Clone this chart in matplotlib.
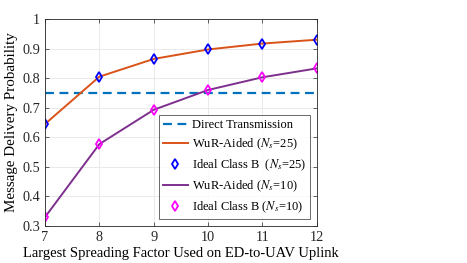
import numpy as np
import matplotlib
matplotlib.use("Agg")
import matplotlib.pyplot as plt

plt.rcParams['font.family'] = ['Liberation Serif', 'DejaVu Serif']
plt.rcParams['mathtext.fontset'] = 'stix'

# data
sf = [7, 8, 9, 10, 11, 12]
direct = 0.75
wur_25 = [0.645, 0.805, 0.865, 0.897, 0.917, 0.930]
ideal_25 = [0.645, 0.805, 0.865, 0.897, 0.917, 0.930]
wur_10 = [0.330, 0.577, 0.693, 0.760, 0.803, 0.833]
ideal_10 = [0.330, 0.577, 0.693, 0.760, 0.803, 0.833]

fig = plt.figure(figsize=(4.67, 2.63), dpi=100)
ax = fig.add_axes([0.0964, 0.1407, 0.582, 0.787])

ax.axhline(direct, color='#0072BD', ls='--', lw=1.6, dashes=(4, 2.5), label='Direct Transmission')
ax.plot(sf, wur_25, color='#D95319', lw=1.4, label='WuR-Aided ($N_s$=25)')
ax.plot(sf, ideal_25, ls='none', marker='d', ms=5.5, mfc='none', mec='b', mew=1.3,
        label='Ideal Class B  ($N_s$=25)')
ax.plot(sf, wur_10, color='#7E2F8E', lw=1.4, label='WuR-Aided ($N_s$=10)')
ax.plot(sf, ideal_10, ls='none', marker='d', ms=5.5, mfc='none', mec='#FF00FF', mew=1.3,
        label='Ideal Class B ($N_s$=10)')

ax.set_xlim(7, 12)
ax.set_ylim(0.3, 1.0)
ax.set_xticks(sf)
ax.set_yticks([0.3, 0.4, 0.5, 0.6, 0.7, 0.8, 0.9, 1.0])
ax.set_yticklabels(['0.3', '0.4', '0.5', '0.6', '0.7', '0.8', '0.9', '1'])
ax.grid(True, color='#e6e6e6', lw=0.6)
ax.set_axisbelow(True)
ax.tick_params(labelsize=10.3, direction='in', length=3, width=0.5, top=True, right=True, colors='#262626')
for s in ax.spines.values():
    s.set_linewidth(0.6)
    s.set_color('#262626')

ax.set_xlabel('Largest Spreading Factor Used on ED-to-UAV Uplink', fontsize=10.5, labelpad=2)
ax.set_ylabel('Message Delivery Probability', fontsize=10.8, labelpad=3)

leg = ax.legend(loc='lower right', fontsize=9, frameon=True, fancybox=False,
                edgecolor='#262626', borderpad=0.3, labelspacing=0.45, handlelength=2.0,
                handletextpad=0.3, borderaxespad=0.55)
leg.get_frame().set_linewidth(0.6)

fig.savefig('out.png', dpi=100)
